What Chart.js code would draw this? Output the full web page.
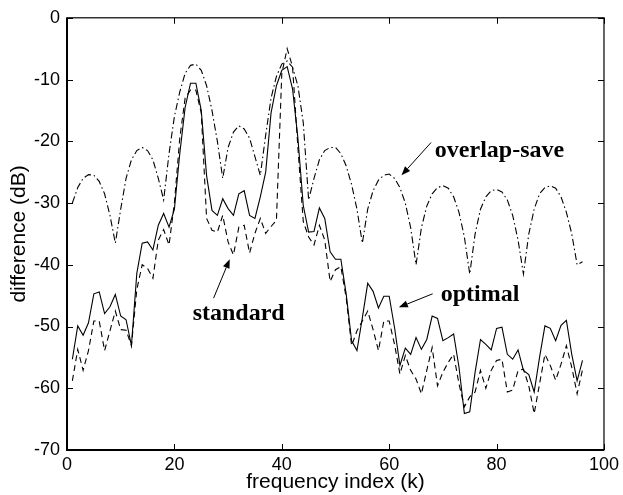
<!DOCTYPE html>
<html>
<head>
<meta charset="utf-8">
<script src="https://cdn.jsdelivr.net/npm/chart.js@4"></script>
<style>
  html, body { margin: 0; padding: 0; background: #ffffff; }
  canvas { display: block; }
</style>
</head>
<body>
<canvas id="chart" width="623" height="495"></canvas>
<script>
// frequency index k = 1..96
const freqIndex = [
  1, 2, 3, 4, 5, 6, 7, 8, 9, 10, 11, 12, 13, 14, 15, 16, 17, 18, 19, 20,
  21, 22, 23, 24, 25, 26, 27, 28, 29, 30, 31, 32, 33, 34, 35, 36, 37, 38, 39, 40,
  41, 42, 43, 44, 45, 46, 47, 48, 49, 50, 51, 52, 53, 54, 55, 56, 57, 58, 59, 60,
  61, 62, 63, 64, 65, 66, 67, 68, 69, 70, 71, 72, 73, 74, 75, 76, 77, 78, 79, 80,
  81, 82, 83, 84, 85, 86, 87, 88, 89, 90, 91, 92, 93, 94, 95, 96
];

const optimal = [
  -55.3, -49.9, -51.4, -49.4, -44.7, -44.4, -47.9, -46.8, -44.8, -48.3,
  -48.9, -53.1, -41.4, -36.5, -36.3, -37.6, -33.6, -31.7, -33.9, -31.0,
  -22.0, -14.5, -10.6, -10.6, -15.0, -25.6, -31.2, -32.0, -29.3, -30.9,
  -32.0, -28.5, -28.0, -32.0, -32.5, -29.0, -25.0, -15.4, -11.0, -8.5,
  -7.9, -11.5, -19.5, -30.4, -34.7, -34.6, -30.8, -32.5, -37.9, -39.1,
  -39.1, -44.8, -52.3, -53.9, -48.6, -43.0, -44.3, -47.0, -45.1, -45.1,
  -50.2, -56.3, -53.5, -54.5, -51.8, -53.7, -52.1, -48.3, -48.7, -52.3,
  -51.8, -51.2, -56.6, -64.1, -63.8, -57.4, -52.1, -52.9, -53.8, -50.3,
  -50.1, -54.5, -55.3, -53.8, -57.1, -57.8, -60.6, -55.0, -49.9, -50.3,
  -52.3, -49.8, -49.0, -54.5, -58.8, -55.5
];

const standard = [
  -58.8, -53.7, -57.1, -53.9, -49.1, -49.1, -53.9, -50.7, -47.5, -50.5,
  -50.6, -53.1, -44.0, -40.0, -40.6, -42.2, -36.0, -34.3, -36.8, -30.0,
  -19.5, -13.0, -11.7, -11.7, -15.4, -32.5, -34.4, -34.7, -32.0, -36.3,
  -38.4, -33.9, -33.6, -38.1, -34.9, -32.5, -34.9, -33.8, -32.8, -9.0,
  -5.0, -7.9, -21.0, -33.0, -35.5, -36.8, -33.6, -36.0, -42.7, -40.8,
  -40.3, -45.4, -53.1, -50.7, -49.1, -47.5, -50.5, -53.9, -49.1, -49.1,
  -52.9, -57.7, -54.7, -57.1, -58.5, -60.9, -57.1, -53.4, -59.6, -57.4,
  -55.8, -54.5, -59.3, -63.0, -61.4, -60.6, -57.1, -60.0, -57.1, -55.5,
  -55.3, -60.6, -60.3, -57.1, -56.9, -59.6, -64.1, -59.3, -54.5, -56.3,
  -58.7, -56.1, -53.1, -56.6, -60.9, -57.0
];

const overlapSave = [
  -30.0, -27.5, -26.0, -25.4, -25.5, -26.5, -28.5, -32.0, -36.5, -31.0,
  -26.0, -23.0, -21.5, -21.0, -21.5, -23.0, -26.0, -29.5, -22.0, -16.0,
  -12.0, -9.0, -7.7, -7.5, -8.5, -11.0, -15.0, -20.0, -26.0, -21.0,
  -18.5, -17.5, -18.0, -19.5, -22.5, -25.5, -19.0, -13.0, -9.5, -7.5,
  -7.0, -8.0, -11.0, -17.0, -29.5, -26.0, -23.0, -21.5, -21.0, -21.0,
  -22.0, -24.0, -27.0, -31.0, -36.5, -31.0, -28.0, -26.3, -25.5, -25.3,
  -26.0, -27.5, -30.0, -34.0, -40.0, -34.0, -30.5, -28.5, -27.5, -27.2,
  -27.6, -29.0, -31.5, -35.5, -41.5, -35.0, -31.0, -29.0, -28.0, -27.8,
  -28.2, -29.5, -32.0, -36.0, -41.5, -35.0, -31.0, -28.5, -27.5, -27.2,
  -27.6, -29.0, -31.5, -35.0, -40.0, -39.5
];

const xTicks = [0, 20, 40, 60, 80, 100];
const yTicks = [0, -10, -20, -30, -40, -50, -60, -70];

// text labels with arrows, in data coordinates
const notes = [
  { text: 'overlap-save', at: [68.5, -22.5], from: [67.8, -20.2], to: [62.3, -25.5] },
  { text: 'standard', at: [23.4, -49.0], from: [27.3, -45.4], to: [30.3, -39.1] },
  { text: 'optimal', at: [69.6, -45.9], from: [68.1, -44.7], to: [61.8, -46.9] }
];

const toPoints = (vals) => vals.map((v, i) => ({ x: freqIndex[i], y: v }));

const frameAndNotes = {
  id: 'frameAndNotes',
  afterDraw(chart) {
    const { ctx, chartArea: a, scales: { x, y } } = chart;
    ctx.save();
    ctx.strokeStyle = '#000';
    // box
    ctx.lineWidth = 1.2;
    ctx.strokeRect(a.left, a.top, a.right - a.left, a.bottom - a.top);
    ctx.lineWidth = 2;
    ctx.beginPath();
    ctx.moveTo(a.left, a.top);
    ctx.lineTo(a.left, a.bottom);
    ctx.lineTo(a.right, a.bottom);
    ctx.stroke();
    // inward ticks on all sides
    ctx.lineWidth = 1;
    ctx.beginPath();
    xTicks.forEach(v => {
      const px = Math.round(x.getPixelForValue(v)) + 0.5;
      ctx.moveTo(px, a.bottom); ctx.lineTo(px, a.bottom - 6);
      ctx.moveTo(px, a.top); ctx.lineTo(px, a.top + 6);
    });
    yTicks.forEach(v => {
      const py = Math.round(y.getPixelForValue(v)) + 0.5;
      ctx.moveTo(a.left, py); ctx.lineTo(a.left + 6, py);
      ctx.moveTo(a.right, py); ctx.lineTo(a.right - 6, py);
    });
    ctx.stroke();

    // notes
    ctx.fillStyle = '#000';
    ctx.font = 'bold 24px "Liberation Serif", "Times New Roman", serif';
    ctx.textBaseline = 'alphabetic';
    ctx.textAlign = 'left';
    notes.forEach(n => {
      ctx.fillText(n.text, x.getPixelForValue(n.at[0]), y.getPixelForValue(n.at[1]));
      const x0 = x.getPixelForValue(n.from[0]), y0 = y.getPixelForValue(n.from[1]);
      const x1 = x.getPixelForValue(n.to[0]), y1 = y.getPixelForValue(n.to[1]);
      const ang = Math.atan2(y1 - y0, x1 - x0);
      const len = 9, half = 3.5;
      const bx = x1 - len * Math.cos(ang), by = y1 - len * Math.sin(ang);
      ctx.lineWidth = 1;
      ctx.beginPath();
      ctx.moveTo(x0, y0);
      ctx.lineTo(bx, by);
      ctx.stroke();
      ctx.beginPath();
      ctx.moveTo(x1, y1);
      ctx.lineTo(bx + half * Math.sin(ang), by - half * Math.cos(ang));
      ctx.lineTo(bx - half * Math.sin(ang), by + half * Math.cos(ang));
      ctx.closePath();
      ctx.fill();
    });
    ctx.restore();
  }
};

const tickFont = { family: '"Liberation Sans", Arial, sans-serif', size: 18 };
const titleFont = { family: '"Liberation Sans", Arial, sans-serif', size: 21 };

const line = (data, dash) => ({
  data: toPoints(data),
  borderColor: '#000',
  borderWidth: 1.1,
  borderDash: dash,
  pointRadius: 0,
  fill: false,
  tension: 0
});

new Chart(document.getElementById('chart'), {
  type: 'line',
  data: {
    datasets: [
      line(overlapSave, [7, 3, 1.5, 3]),
      line(standard, [6, 4]),
      line(optimal, [])
    ]
  },
  options: {
    responsive: false,
    animation: false,
    layout: { padding: { top: 14, right: 16, left: 0, bottom: 0 } },
    plugins: { legend: { display: false }, tooltip: { enabled: false } },
    scales: {
      x: {
        type: 'linear',
        min: 0,
        max: 100,
        afterBuildTicks: s => { s.ticks = xTicks.map(v => ({ value: v })); },
        afterFit: s => { s.height = 45; },
        grid: { display: false, drawTicks: false },
        border: { display: false },
        ticks: { color: '#000', font: tickFont, padding: 4, maxRotation: 0 },
        title: { display: true, text: 'frequency index (k)', color: '#000', font: titleFont, padding: { top: 0, bottom: 0 } }
      },
      y: {
        min: -70,
        max: 0,
        afterBuildTicks: s => { s.ticks = yTicks.map(v => ({ value: v })); },
        afterFit: s => { s.width = 67; },
        grid: { display: false, drawTicks: false },
        border: { display: false },
        ticks: { color: '#000', font: tickFont, padding: 7 },
        title: { display: true, text: 'difference (dB)', color: '#000', font: titleFont, padding: { top: 7, bottom: 0 } }
      }
    }
  },
  plugins: [frameAndNotes]
});
</script>
</body>
</html>
